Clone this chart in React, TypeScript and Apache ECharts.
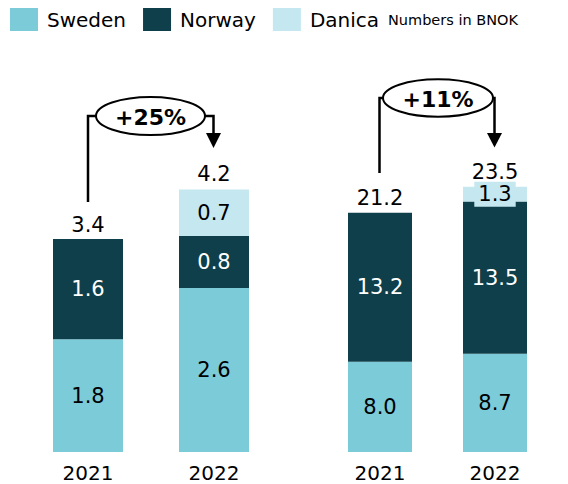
import React, { useEffect, useRef } from "react";
import * as echarts from "echarts";

const years = ["2021", "2022"];
const leftSweden = [1.8, 2.62];
const leftNorway = [1.6, 0.83];
const leftDanica: (number | string)[] = ["-", 0.74];
const leftTotals = [3.4, 4.2];
const rightSweden = [8.0, 8.7];
const rightNorway = [13.2, 13.5];
const rightDanica: (number | string)[] = ["-", 1.3];
const rightTotals = [21.2, 23.5];
const seriesNames = ["Sweden", "Norway", "Danica"];
const growthLabels = ["+25%", "+11%"];

const C_SWE = "#7bcbd9";
const C_NOR = "#0f3f4a";
const C_DAN = "#c5e8f0";
const FONT = "DejaVu Sans";
const NUM_SIZE = 21;

const fmt = (p: any) => Number(p.value).toFixed(1);

export default function App() {
  const ref = useRef<HTMLDivElement>(null);
  useEffect(() => {
    if (!ref.current) return;
    const chart = echarts.init(ref.current, null, { renderer: "svg" });
    const barLabel = (color: string, extra: any = {}) => ({
      show: true,
      position: "inside",
      color,
      fontSize: NUM_SIZE,
      fontFamily: FONT,
      formatter: fmt,
      ...extra,
    });
    const stackSeries = (idx: number, sw: number[], no: number[], da: any[], width: number) => [
      {
        name: seriesNames[0], type: "bar", stack: "s" + idx, xAxisIndex: idx, yAxisIndex: idx,
        data: sw, barWidth: width, itemStyle: { color: C_SWE }, label: barLabel("#000"), silent: true,
      },
      {
        name: seriesNames[1], type: "bar", stack: "s" + idx, xAxisIndex: idx, yAxisIndex: idx,
        data: no, barWidth: width, itemStyle: { color: C_NOR }, label: barLabel("#fff"), silent: true,
      },
      {
        name: seriesNames[2], type: "bar", stack: "s" + idx, xAxisIndex: idx, yAxisIndex: idx,
        data: da, barWidth: width, itemStyle: { color: C_DAN },
        label: barLabel("#000", { backgroundColor: C_DAN, padding: [3, 4, 1, 4] }), silent: true,
      },
    ];
    const totalSeries = (idx: number, totals: number[]) => ({
      type: "scatter", xAxisIndex: idx, yAxisIndex: idx, data: totals, symbolSize: 0,
      itemStyle: { color: "#000", opacity: 1 }, silent: true,
      label: { show: true, position: "top", distance: 4, color: "#000", fontSize: NUM_SIZE, fontFamily: FONT, formatter: fmt },
    });
    const xAx = (gi: number) => ({
      type: "category", gridIndex: gi, data: years,
      axisLine: { show: false }, axisTick: { show: false },
      axisLabel: { color: "#000", fontSize: 20, fontFamily: FONT, margin: 11 },
    });
    const yAx = (gi: number, max: number) => ({
      type: "value", gridIndex: gi, min: 0, max, show: false, splitLine: { show: false },
    });
    const lw = 2.5;
    const ann = (x1: number, yStart: number, ex1: number, cx: number, cy: number, rx: number, ry: number, ex2: number, x2: number, yArrow: number, yTip: number, text: string) => [
      { type: "polyline", shape: { points: [[x1, yStart], [x1, cy], [ex1, cy]] }, style: { stroke: "#000", lineWidth: lw, fill: "none" } },
      { type: "polyline", shape: { points: [[ex2, cy], [x2, cy], [x2, yArrow + 1]] }, style: { stroke: "#000", lineWidth: lw, fill: "none" } },
      { type: "polygon", shape: { points: [[x2 - 7.5, yArrow], [x2 + 7.5, yArrow], [x2, yTip]] }, style: { fill: "#000" } },
      { type: "ellipse", shape: { cx, cy, rx, ry }, style: { fill: "#fff", stroke: "#000", lineWidth: 2 } },
      { type: "text", x: cx, y: cy + 1, style: { text, fill: "#000", font: `bold 22px "${FONT}"`, align: "center", verticalAlign: "middle" } },
    ];
    chart.setOption({
      animation: false,
      textStyle: { fontFamily: FONT },
      legend: {
        data: seriesNames, left: 10, top: 8, padding: 0, itemWidth: 28, itemHeight: 23, itemGap: 17,
        icon: "rect", selectedMode: false,
        textStyle: { fontSize: 20, color: "#000", fontFamily: FONT, padding: [0, 0, 0, 4] },
      },
      grid: [
        { left: 25, width: 252, top: 100, bottom: 32 },
        { left: 322.5, width: 230, top: 100, bottom: 32 },
      ],
      xAxis: [xAx(0), xAx(1)],
      yAxis: [yAx(0, 5.62), yAx(1, 31.2)],
      series: [
        ...stackSeries(0, leftSweden, leftNorway, leftDanica, 70),
        totalSeries(0, leftTotals),
        ...stackSeries(1, rightSweden, rightNorway, rightDanica, 64),
        totalSeries(1, rightTotals),
      ],
      graphic: [
        { type: "text", left: 388, top: 12, style: { text: "Numbers in BNOK", fill: "#000", font: `14.5px "${FONT}"` } },
        ...ann(88, 202, 96, 150.5, 116, 54.5, 19, 205, 213.5, 133, 148, growthLabels[0]),
        ...ann(379.5, 173, 383, 438, 98, 55, 18.7, 493, 494.5, 133, 147.5, growthLabels[1]),
      ],
    });
    return () => chart.dispose();
  }, []);
  return <div ref={ref} style={{ position: "absolute", left: 0, top: 0, width: 568, height: 484 }} />;
}
